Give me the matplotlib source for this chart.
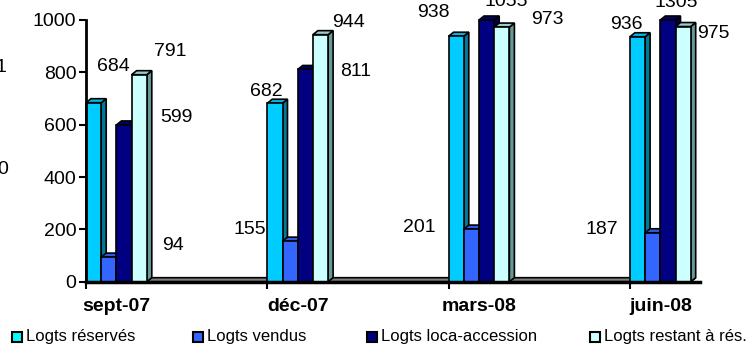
import numpy as np
import matplotlib
matplotlib.use("Agg")
import matplotlib.pyplot as plt
from matplotlib.patches import Polygon, Rectangle

plt.rcParams['font.family'] = ['Liberation Sans', 'DejaVu Sans']

# données
categories = ["sept-07", "déc-07", "mars-08", "juin-08"]
series = ["Logts réservés", "Logts vendus", "Logts loca-accession", "Logts restant à rés."]
reserves = [684, 682, 938, 936]
vendus = [94, 155, 201, 187]
loca_accession = [599, 811, 1055, 1305]
restant = [791, 944, 973, 975]
valeurs = [reserves, vendus, loca_accession, restant]

# couleurs : face avant, dessus, côté
front = ["#00CCFF", "#3366FF", "#000080", "#CCFFFF"]
top = ["#00B8E6", "#2E5CE6", "#000066", "#99CCCC"]
side = ["#007A99", "#1F3D99", "#00004D", "#669999"]

# position des étiquettes (décalage en x depuis le début du groupe, y en valeur)
lab_dx = [[0.149, -0.006, -0.083, -0.017],
          [0.480, -0.094, -0.160, -0.154],
          [0.500, 0.485, 0.320, 0.254],
          [0.463, 0.447, 0.546, 0.458]]
lab_y = [[824, 725, 1027, 981],
         [140, 198, 209, 198],
         [629, 805, 1069, 1065],
         [878, 992, 1000, 950]]

ymax = 1000
px_x = 181.3                 # pixels par catégorie
px_y = 261.7 / ymax          # pixels par unité
w = 15.2 / px_x              # largeur d'une barre
ddx = 5 / px_x               # profondeur 3D
ddy = 4 / px_y

fig = plt.figure(figsize=(7.55, 3.45), dpi=100)
ax = fig.add_axes([86 / 755, (345 - 281.7) / 345, 614 / 755, 261.7 / 345])
ax.set_xlim(0, 614 / px_x)
ax.set_ylim(0, ymax)

# plancher
x_end = len(categories) - 1 + 4 * w
ax.add_patch(Polygon([(0, 0), (x_end, 0), (x_end + ddx, ddy), (ddx, ddy)],
                     closed=True, fc="#808080", ec="black", lw=1.2, zorder=1))

for i in range(len(categories)):
    for s in range(len(series)):
        h = min(valeurs[s][i], ymax)
        x0 = i + s * w
        ax.add_patch(Polygon([(x0 + w, 0), (x0 + w + ddx, ddy), (x0 + w + ddx, h + ddy), (x0 + w, h)],
                             closed=True, fc=side[s], ec="black", lw=1.2, zorder=2, clip_on=False))
        ax.add_patch(Polygon([(x0, h), (x0 + w, h), (x0 + w + ddx, h + ddy), (x0 + ddx, h + ddy)],
                             closed=True, fc=top[s], ec="black", lw=1.2, zorder=2, clip_on=False))
        ax.add_patch(Rectangle((x0, 0), w, h, fc=front[s], ec="black", lw=1.2, zorder=2, clip_on=False))
        ax.text(i + lab_dx[s][i], lab_y[s][i], str(valeurs[s][i]), fontsize=14,
                ha="center", va="center", zorder=3, clip_on=False)

# axes
for sp in ["top", "right"]:
    ax.spines[sp].set_visible(False)
ax.spines["left"].set_linewidth(2)
ax.spines["bottom"].set_linewidth(2.5)
ax.spines["left"].set_zorder(4)
ax.spines["bottom"].set_zorder(4)
ax.set_yticks(np.arange(0, ymax + 1, 200))
ax.tick_params(axis="y", length=5, width=1.5, labelsize=14, pad=2)
ax.set_xticks(range(len(categories)))
ax.set_xticklabels([])
ax.tick_params(axis="x", length=5, width=1.5)
ax.set_xticks([i + 2 * w for i in range(len(categories))], minor=True)
ax.set_xticklabels(categories, minor=True, fontsize=14, fontweight="bold")
ax.tick_params(axis="x", which="minor", length=0, pad=12)

# restes d'étiquettes coupées au bord gauche
fig.text(6 / 755, 1 - 68 / 345, "1", fontsize=14, ha="right", va="center")
fig.text(8 / 755, 1 - 170 / 345, "0", fontsize=14, ha="right", va="center")

# légende
leg_x = [12, 193, 367, 590]
for s in range(len(series)):
    fig.patches.append(Rectangle((leg_x[s] / 755, 1 - 342 / 345), 10 / 755, 10 / 345,
                                 transform=fig.transFigure, fc=front[s] if s else "#00FFFF",
                                 ec="black", lw=1.5))
    fig.text((leg_x[s] + 14) / 755, 1 - 337 / 345, series[s], fontsize=12, va="center")

fig.savefig("out.png", dpi=100)
